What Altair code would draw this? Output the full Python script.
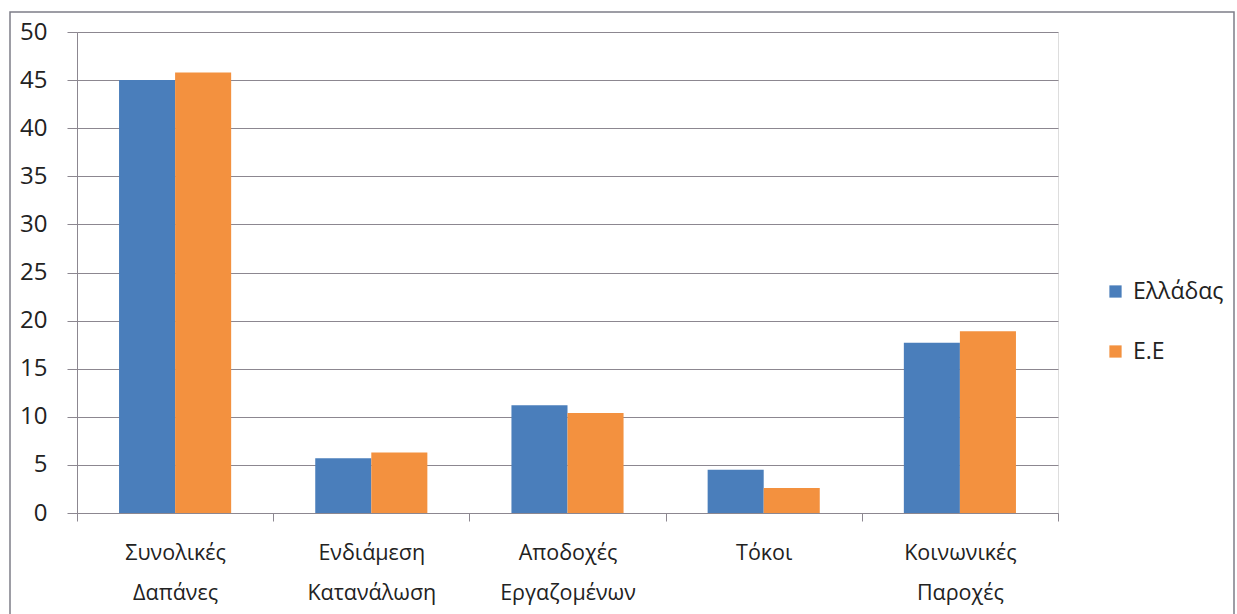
import altair as alt
import pandas as pd

# Expenditure categories (share, %) for Greece vs EU average
categories = [
    "Συνολικές Δαπάνες",
    "Ενδιάμεση Κατανάλωση",
    "Αποδοχές Εργαζομένων",
    "Τόκοι",
    "Κοινωνικές Παροχές",
]
series = ["Ελλάδας", "Ε.Ε"]
greece = [45.0, 5.7, 11.2, 4.5, 17.7]
eu = [45.8, 6.3, 10.4, 2.6, 18.9]
colors = ["#4a7ebb", "#f3913f"]

rows = []
for cat, g, e in zip(categories, greece, eu):
    rows.append({"cat": cat, "series": series[0], "value": g})
    rows.append({"cat": cat, "series": series[1], "value": e})
df = pd.DataFrame(rows)

FONT = "Open Sans"
TEXT = "#222222"
GRID = "#8c8790"

bars = alt.Chart(df).mark_bar().encode(
    x=alt.X(
        "cat:N",
        sort=categories,
        title=None,
        scale=alt.Scale(paddingInner=0, paddingOuter=0),
        axis=alt.Axis(
            labelExpr="split(datum.label, ' ')",
            labelAngle=0,
            labelFontSize=21.5,
            labelFont=FONT,
            labelColor=TEXT,
            labelPadding=21,
            labelLineHeight=40,
            labelBaseline="top",
            tickBand="extent",
            tickSize=8,
            tickColor=GRID,
            domainColor=GRID,
            grid=False,
        ),
    ),
    xOffset=alt.XOffset(
        "series:N",
        sort=series,
        scale=alt.Scale(paddingInner=0, paddingOuter=0.75),
    ),
    y=alt.Y(
        "value:Q",
        title=None,
        scale=alt.Scale(domain=[0, 50]),
        axis=alt.Axis(
            values=list(range(0, 51, 5)),
            labelFontSize=24,
            labelFont=FONT,
            labelColor=TEXT,
            labelPadding=20,
            tickSize=10,
            tickColor=GRID,
            domainColor=GRID,
            gridColor=GRID,
            gridWidth=1.2,
        ),
    ),
    color=alt.Color(
        "series:N",
        sort=series,
        scale=alt.Scale(domain=series, range=colors),
        legend=alt.Legend(
            title=None,
            orient="none",
            legendX=1027,
            legendY=248,
            symbolType="square",
            symbolSize=150,
            symbolStrokeWidth=0,
            labelFontSize=23,
            labelFont=FONT,
            labelColor=TEXT,
            rowPadding=36,
            labelOffset=6,
        ),
    ),
)

# Outer frame around the whole figure
frame = alt.Chart(pd.DataFrame({"f": [0]})).mark_rect(
    fill=None, stroke="#7d7d88", strokeWidth=1.5
).encode(
    x=alt.value(-67), x2=alt.value(1157), y=alt.value(-20), y2=alt.value(620)
)

chart = alt.layer(frame, bars).properties(
    width=981,
    height=481,
    autosize=alt.AutoSizeParams(type="none"),
    padding={"left": 77, "top": 32, "right": 179, "bottom": 101},
).configure_view(stroke=None).configure(background="white")

chart.save("out.html", embed_options={"renderer": "svg", "actions": False})
